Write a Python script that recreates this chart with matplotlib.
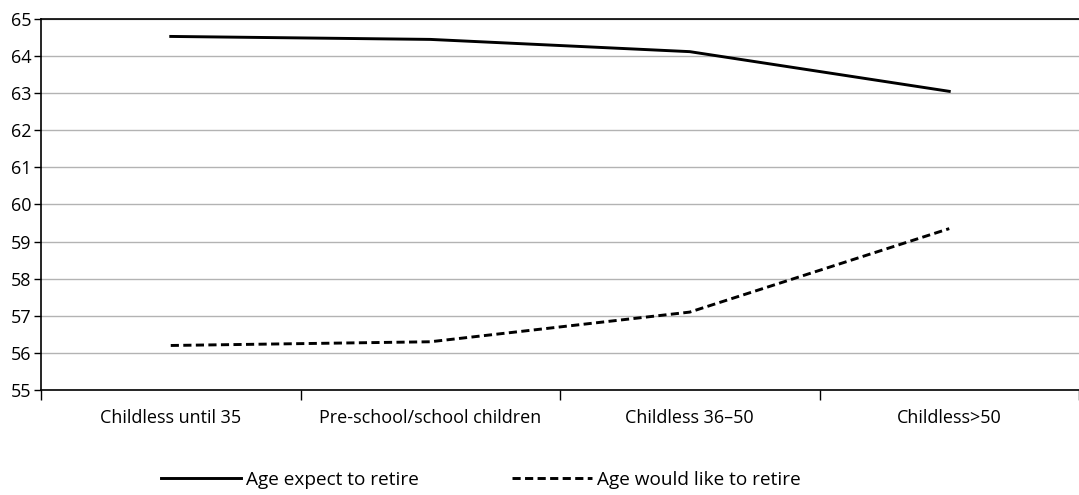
import matplotlib
matplotlib.use("Agg")
import matplotlib.pyplot as plt
from matplotlib.lines import Line2D

categories = ["Childless until 35", "Pre-school/school children", "Childless 36\u201350", "Childless>50"]
expect_retire = [64.53, 64.45, 64.12, 63.05]
like_retire = [56.2, 56.3, 57.1, 59.35]
series_labels = ["Age expect to retire", "Age would like to retire"]
y_ticks = list(range(55, 66))

plt.rcParams["font.family"] = ["Open Sans", "DejaVu Sans"]
FS = 13
LEG_FS = 13.7
LW = 2.1
DASH = (0, (2.8, 1.5))

fig = plt.figure(figsize=(10.79, 4.95), dpi=100)
ax = fig.add_axes([41 / 1079, 1 - 390 / 495, (1079 - 41) / 1079, (390 - 19) / 495])

x = list(range(len(categories)))
ax.plot(x, expect_retire, color="black", lw=LW, solid_joinstyle="round")
ax.plot(x, like_retire, color="black", lw=LW, linestyle=DASH)

ax.set_xlim(-0.5, len(categories) - 0.5)
ax.set_ylim(55, 65)
ax.set_yticks(y_ticks)
ax.set_yticklabels([str(v) for v in y_ticks], fontsize=FS)
ax.yaxis.grid(True, color="#b3b3b3", lw=1.0)
ax.set_axisbelow(True)

ax.set_xticks(x)
ax.set_xticklabels(categories, fontsize=FS)
ax.tick_params(axis="x", length=0, pad=14)
ax.set_xticks([i - 0.5 for i in range(len(categories) + 1)], minor=True)
ax.tick_params(axis="x", which="minor", length=7, width=1.0, color="black")
ax.tick_params(axis="y", length=5, width=1.0, pad=2)

ax.spines["right"].set_visible(False)
ax.spines["top"].set_color("black")
ax.spines["top"].set_linewidth(1.2)
ax.spines["left"].set_linewidth(1.2)
ax.spines["bottom"].set_linewidth(1.2)

handles = [
    Line2D([], [], color="black", lw=LW),
    Line2D([], [], color="black", lw=LW, linestyle=DASH),
]
fig.legend(handles, series_labels, loc="center", bbox_to_anchor=(0.446, 0.03),
           ncol=2, frameon=False, fontsize=LEG_FS, handlelength=4.2,
           handletextpad=0.26, columnspacing=4.9)

fig.savefig("out.png", dpi=100)
